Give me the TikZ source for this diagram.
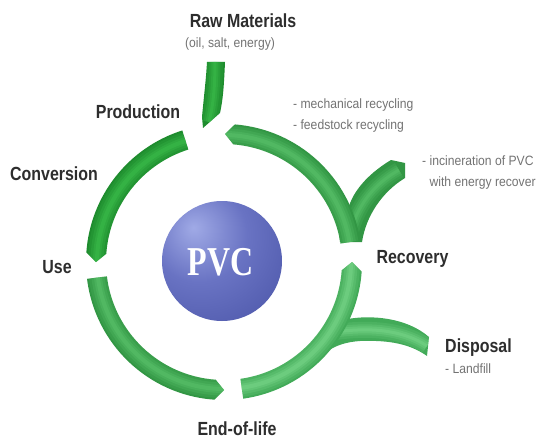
\documentclass[tikz,border=0pt]{standalone}
\usepackage{fontspec}
\newfontfamily\labelfont[FakeStretch=0.84]{Liberation Sans}
\newfontfamily\notefont[FakeStretch=0.9]{Liberation Sans}
\newfontfamily\ballfont[FakeStretch=0.78]{Liberation Serif}
\definecolor{gdark}{RGB}{30,140,46}
\definecolor{glight}{RGB}{70,205,85}
\definecolor{gmid}{RGB}{50,150,68}
\definecolor{gmidlight}{RGB}{105,210,120}
\definecolor{gpale}{RGB}{66,170,88}
\definecolor{gpalelight}{RGB}{140,230,155}
\definecolor{txt}{RGB}{45,45,45}
\definecolor{notegray}{RGB}{115,115,115}
\definecolor{pvclight}{RGB}{160,170,230}
\definecolor{pvcmid}{RGB}{105,115,195}
\definecolor{pvcdark}{RGB}{72,82,165}
\pgfdeclareradialshading{pvcball}{\pgfpoint{-12bp}{14bp}}{%
    color(0bp)=(pvclight); color(20bp)=(pvcmid); color(48bp)=(pvcdark); color(100bp)=(pvcdark)}
\tikzset{
    stage/.style={font=\labelfont\bfseries\fontsize{19}{19}\selectfont,
        text=txt, inner sep=0pt, anchor=base},
    note/.style={font=\notefont\fontsize{13.5}{13.5}\selectfont,
        text=notegray, inner sep=0pt, anchor=base west}
}
% one piece of the ring: start angle, tip angle, fill, highlight
\newcommand{\ringpiece}[4]{%
    \fill[#3, path picture={\foreach \w/\o in {18/.14,13/.18,8/.22,4/.25}
            \draw[#4, line width=\w pt, opacity=\o]
            ([shift={(ctr)}]#1:127) arc[start angle=#1, end angle=#2, radius=127pt];}]
        ([shift={(ctr)}]#1:138) arc[start angle=#1, end angle=#2-4, radius=138pt]
        -- ([shift={(ctr)}]#2:128)
        -- ([shift={(ctr)}]#2-4:118) arc[start angle=#2-4, end angle=#1, radius=118pt]
        -- cycle;}

\begin{document}
\begin{tikzpicture}[x=1pt, y=1pt]
    \fill[white] (0,0) rectangle (538,440);
    \useasboundingbox (0,0) rectangle (538,440);
    \coordinate (ctr) at (224,178);
    % feed from the raw materials
    \fill[gdark, path picture={\foreach \w/\o in {16/.14,11/.18,7/.22,3/.25}
            \draw[glight, line width=\w pt, opacity=\o]
            (215,380) .. controls (215,350) and (213,335) .. (209,318);}]
        (207,378) -- (225,378) .. controls (224,355) and (223,340) .. (220,327)
        -- (203,312) -- (202,323) .. controls (204,345) and (206,360) .. (207,378) -- cycle;
    % branch to incineration
    \fill[gmid, path picture={\foreach \w/\o in {16/.14,11/.18,7/.22,3/.25}
            \draw[gmidlight, line width=\w pt, opacity=\o]
            (350,205) .. controls (356,232) and (372,255) .. (399,270);}]
        (362,198) .. controls (366,224) and (382,248) .. (405,262) -- (405,277) -- (391,280)
        .. controls (371,268) and (355,252) .. (349,234) -- (338,215) -- (340,198) -- cycle;
    % branch to disposal
    \fill[gpale, path picture={\foreach \w/\o in {16/.14,11/.18,7/.22,3/.25}
            \draw[gpalelight, line width=\w pt, opacity=\o]
            (335,108) .. controls (365,112) and (400,112) .. (427,94);}]
        (348,121) .. controls (370,125) and (406,123) .. (429,103) -- (427,84)
        .. controls (410,96) and (390,100) .. (360,99)
        .. controls (345,98) and (335,94) .. (328,89) -- (320,100) -- cycle;
    % the ring
    \ringpiece{107.6}{180}{gdark}{glight}
    \ringpiece{187}{270}{gmid}{gmidlight}
    \ringpiece{278}{360}{gpale}{gpalelight}
    \ringpiece{9}{89.5}{gmid}{gmidlight}
    % PVC ball
    \shade[shading=pvcball] (222,179) circle[radius=60pt];
    \node[font=\ballfont\bfseries\fontsize{41}{41}\selectfont, text=white,
        inner sep=0pt, anchor=base] (pvc) at (220.5,165) {PVC};
    % stages
    \node[stage] (raw) at (243,412) {Raw Materials};
    \node[note, anchor=base] (rawnote) at (230,392) {(oil, salt, energy)};
    \node[stage] (prod) at (138,321) {Production};
    \node[stage] (conv) at (54,259.5) {Conversion};
    \node[stage] (use) at (57,167) {Use};
    \node[stage] (eol) at (237,5) {End-of-life};
    \node[stage] (recov) at (412.5,177) {Recovery};
    \node[stage] (disp) at (478.5,88) {Disposal};
    \node[note] (dispnote) at (445,67) {- Landfill};
    \node[note] (recyc1) at (293,331.7) {- mechanical recycling};
    \node[note] (recyc2) at (293,310.7) {- feedstock recycling};
    \node[note] (incin1) at (422,275) {- incineration of PVC};
    \node[note] (incin2) at (422,254) {\phantom{- }with energy recover};
\end{tikzpicture}
\end{document}
